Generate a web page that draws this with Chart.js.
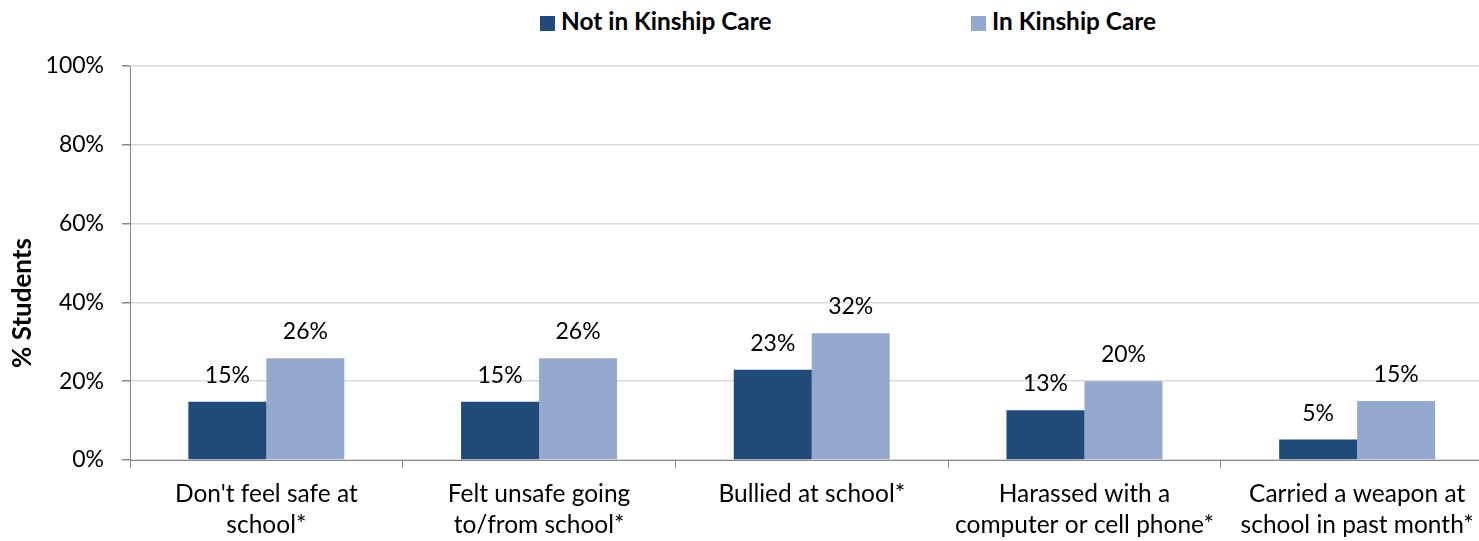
<!DOCTYPE html>
<html>
<head>
<meta charset="utf-8">
<script src="https://cdn.jsdelivr.net/npm/chart.js@4/dist/chart.umd.min.js"></script>
<style>
  body { margin: 0; background: #fff; }
  #wrap { position: relative; width: 1479px; height: 541px; overflow: hidden; }
  #myChart { position: absolute; left: 0; top: 0; }
  .legend_item { position: absolute; top: 6px; font-family: Lato, sans-serif; font-weight: bold; font-size: 24.4px; color: #000; line-height: 30px; white-space: nowrap; }
  .legend_box { display: inline-block; width: 15px; height: 15px; margin-right: 6px; vertical-align: -1px; }
</style>
</head>
<body>
<div id="wrap">
  <div id="legend"></div>
  <canvas id="myChart" width="1500" height="541"></canvas>
</div>
<script>
let categories = [
  ["Don't feel safe at", "school*"],
  ["Felt unsafe going", "to/from school*"],
  ["Bullied at school*"],
  ["Harassed with a", "computer or cell phone*"],
  ["Carried a weapon at", "school in past month*"],
];
let seriesNames = ["Not in Kinship Care", "In Kinship Care"];
let notInKinship = [14.8, 14.8, 22.9, 12.6, 5.2];
let inKinship = [25.8, 25.8, 32.2, 20.0, 15.0];
let yTicks = [0, 20, 40, 60, 80, 100];
let colors = ["#214a7b", "#95a9cf"];
let legendLeft = [540, 971];

let font = "Lato, sans-serif";

// value labels above the bars
let barLabels = {
  id: "barLabels",
  afterDatasetsDraw(chart) {
    let ctx = chart.ctx;
    ctx.save();
    ctx.font = "23px " + font;
    ctx.fillStyle = "#000";
    ctx.textAlign = "center";
    ctx.textBaseline = "alphabetic";
    chart.data.datasets.forEach((ds, i) => {
      chart.getDatasetMeta(i).data.forEach((bar, j) => {
        ctx.fillText(Math.round(ds.data[j]) + "%", bar.x, bar.y - 19);
      });
    });
    ctx.restore();
  },
};

// y axis title, sits a bit below the middle like the original
let yTitle = {
  id: "yTitle",
  afterDraw(chart) {
    let ctx = chart.ctx;
    ctx.save();
    ctx.translate(23, 303);
    ctx.rotate(-Math.PI / 2);
    ctx.font = "bold 26px " + font;
    ctx.fillStyle = "#000";
    ctx.textAlign = "center";
    ctx.textBaseline = "middle";
    ctx.fillText("% Students", 0, 0);
    ctx.restore();
  },
};

function createLegend() {
  let html = "";
  for (let i = 0; i < seriesNames.length; i++) {
    html += `<div class="legend_item" style="left:${legendLeft[i]}px"><span class="legend_box" style="background:${colors[i]}"></span>${seriesNames[i]}</div>`;
  }
  document.getElementById("legend").innerHTML = html;
}

function loadChart() {
  const data = {
    labels: categories,
    datasets: [
      { label: seriesNames[0], data: notInKinship, backgroundColor: colors[0] },
      { label: seriesNames[1], data: inKinship, backgroundColor: colors[1] },
    ],
  };

  const config = {
    type: "bar",
    data,
    options: {
      responsive: false,
      animation: false,
      categoryPercentage: 0.572,
      barPercentage: 1.0,
      layout: { padding: { top: 66, left: 0, right: 6.5, bottom: 0 } },
      plugins: { legend: { display: false }, tooltip: { enabled: false } },
      scales: {
        x: {
          afterFit: (scale) => { scale.height = 81; },
          grid: { drawOnChartArea: false, tickLength: 8, tickColor: "#868686" },
          border: { color: "#868686" },
          ticks: {
            color: "#000",
            padding: 10.5,
            maxRotation: 0,
            autoSkip: false,
            font: { family: font, size: 24.5, lineHeight: 1.28 },
          },
        },
        y: {
          min: 0,
          max: 100,
          afterFit: (scale) => { scale.width = 130; },
          afterBuildTicks: (scale) => { scale.ticks = yTicks.map((v) => ({ value: v })); },
          grid: { color: "#d9d9d9", lineWidth: 1.5, tickLength: 8, tickColor: "#868686" },
          border: { color: "#868686" },
          ticks: {
            color: "#000",
            padding: 18,
            callback: (v) => v + "%",
            font: { family: font, size: 23 },
          },
        },
      },
    },
    plugins: [barLabels, yTitle],
  };
  new Chart(document.getElementById("myChart"), config);
}

createLegend();
loadChart();
</script>
</body>
</html>
